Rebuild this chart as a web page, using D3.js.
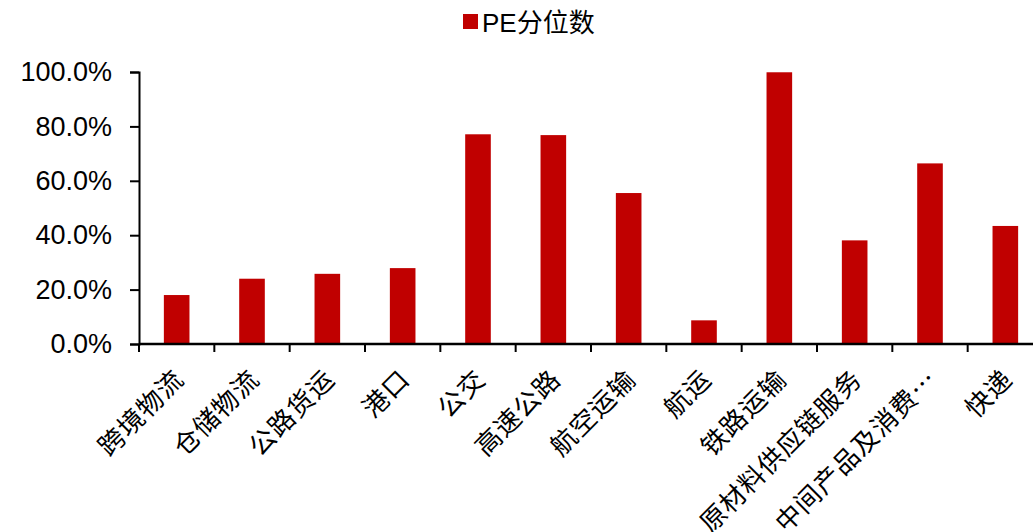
<!DOCTYPE html>
<html>
<head>
<meta charset="utf-8">
<script src="https://cdn.jsdelivr.net/npm/d3@7"></script>
<style>
  body { margin: 0; background: #fff; }
  svg { display: block; }
</style>
</head>
<body>
<div id="chart-area"></div>
<script>
// data
const categories = ["跨境物流", "仓储物流", "公路货运", "港口", "公交", "高速公路",
  "航空运输", "航运", "铁路运输", "原材料供应链服务", "中间产品及消费…", "快递"];
const peValues = [0.180, 0.240, 0.258, 0.279, 0.771, 0.768, 0.555, 0.087, 0.999, 0.381, 0.664, 0.434];
const yTicks = [0, 0.2, 0.4, 0.6, 0.8, 1.0];
const seriesName = "PE分位数";

const barColor = "#C00000";
const W = 1033, H = 532;
const margins = {left: 139, top: 72, right: -10, bottom: 188};

const svg = d3.select("#chart-area")
  .append("svg")
  .attr("width", W)
  .attr("height", H);

const plotW = W - margins.left - margins.right;
const plotH = H - margins.top - margins.bottom;

const g = svg.append("g")
  .attr("transform", "translate(" + margins.left + "," + margins.top + ")");

// scales
const xScale = d3.scaleBand()
  .domain(categories)
  .range([0, plotW])
  .paddingInner(0.66)
  .paddingOuter(0.33);

const yScale = d3.scaleLinear()
  .domain([0, 1])
  .range([plotH, 0]);

// bars
g.selectAll("rect.bar")
  .data(peValues)
  .enter()
  .append("rect")
  .attr("class", "bar")
  .attr("x", (d, i) => xScale(categories[i]))
  .attr("width", xScale.bandwidth())
  .attr("y", d => yScale(d))
  .attr("height", d => plotH - yScale(d))
  .attr("fill", barColor);

// Y axis
const yAxis = g.append("g")
  .call(d3.axisLeft(yScale)
    .tickValues(yTicks)
    .tickSize(9)
    .tickPadding(18)
    .tickFormat(d3.format(".1%")));
yAxis.select(".domain").attr("stroke", "#000").attr("stroke-width", 2);
yAxis.selectAll(".tick line").attr("stroke", "#000").attr("stroke-width", 2);
yAxis.selectAll(".tick text")
  .attr("font-family", "Liberation Sans, Arial, sans-serif")
  .attr("font-size", "27px")
  .attr("fill", "#000");

// X axis with ticks on band edges
const step = xScale.step();
const edges = d3.range(categories.length + 1).map(i => i * step);
const xg = g.append("g").attr("transform", "translate(0," + plotH + ")");
xg.append("line")
  .attr("x1", 0).attr("x2", plotW)
  .attr("stroke", "#000").attr("stroke-width", 2.5);
xg.selectAll("line.tick")
  .data(edges)
  .enter().append("line")
  .attr("class", "tick")
  .attr("x1", d => d).attr("x2", d => d)
  .attr("y1", 0).attr("y2", 8)
  .attr("stroke", "#000").attr("stroke-width", 2);

xg.selectAll("text")
  .data(categories)
  .enter().append("text")
  .attr("transform", d => "translate(" + (xScale(d) + xScale.bandwidth() / 2 + 9) + ",37) rotate(-45)")
  .attr("text-anchor", "end")
  .attr("font-family", "Noto Sans CJK SC, sans-serif")
  .attr("font-size", "26px")
  .attr("letter-spacing", "1px")
  .attr("fill", "#000")
  .text(d => d);

// legend
const legend = svg.append("g").attr("transform", "translate(463,14)");
legend.append("rect")
  .attr("width", 15).attr("height", 15)
  .attr("fill", barColor);
const lt = legend.append("text")
  .attr("x", 19).attr("y", 18)
  .attr("font-size", "26px")
  .attr("fill", "#000");
lt.append("tspan").attr("font-family", "Liberation Sans, Arial, sans-serif").text("PE");
lt.append("tspan").attr("font-family", "Noto Sans CJK SC, sans-serif").text(seriesName.slice(2));
</script>
</body>
</html>
